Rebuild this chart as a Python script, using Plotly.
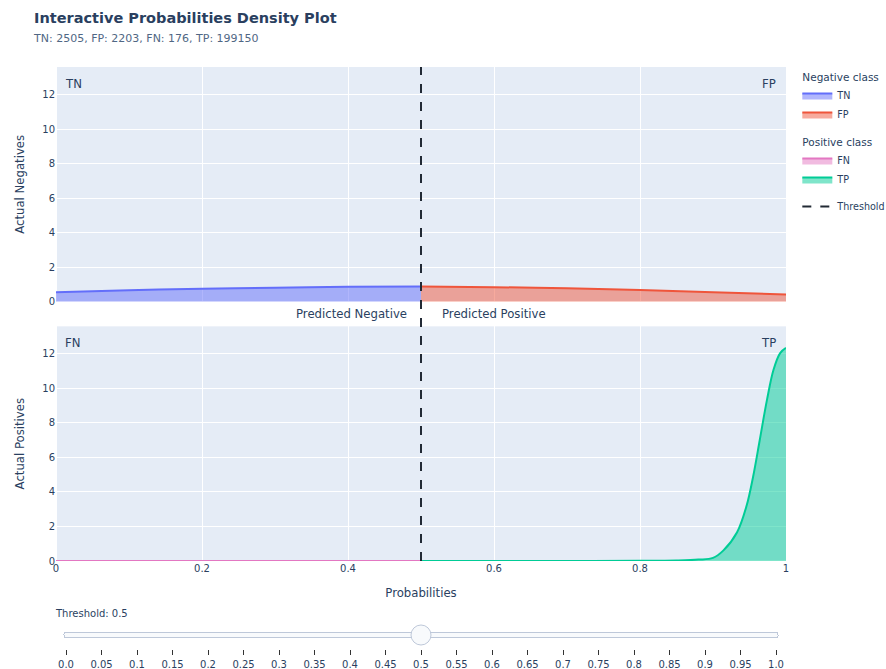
import plotly.graph_objects as go
from plotly.subplots import make_subplots

threshold = 0.5
counts = {"TN": 2505, "FP": 2203, "FN": 176, "TP": 199150}

# Density of actual negatives
neg_x = [0.0, 0.1, 0.2, 0.3, 0.4, 0.5, 0.6, 0.7, 0.8, 0.9, 1.0]
neg_y = [0.54, 0.66, 0.75, 0.81, 0.86, 0.88, 0.84, 0.77, 0.67, 0.55, 0.42]

# Density of actual positives
pos_x = [0.0, 0.1, 0.2, 0.3, 0.4, 0.5, 0.6, 0.7, 0.8, 0.85, 0.88, 0.9, 0.914,
         0.933, 0.946, 0.955, 0.964, 0.974, 0.983, 0.992, 1.0]
pos_y = [0.0, 0.0, 0.0, 0.0, 0.0, 0.0, 0.0, 0.0, 0.01, 0.03, 0.08, 0.18, 0.6,
         1.67, 3.2, 4.9, 7.0, 9.35, 11.1, 12.05, 12.35]

slider_values = [round(i * 0.05, 2) for i in range(21)]
slider_labels = ["0.0", "0.05", "0.1", "0.15", "0.2", "0.25", "0.3", "0.35", "0.4", "0.45",
                 "0.5", "0.55", "0.6", "0.65", "0.7", "0.75", "0.8", "0.85", "0.9", "0.95", "1.0"]

FONT = "DejaVu Sans"
TXT = "#2a3f5f"


def split(xs, ys, thr):
    lx, ly, rx, ry = [], [], [], []
    for x, y in zip(xs, ys):
        if x <= thr:
            lx.append(x); ly.append(y)
        if x >= thr:
            rx.append(x); ry.append(y)
    return lx, ly, rx, ry


tnx, tny, fpx, fpy = split(neg_x, neg_y, threshold)
fnx, fny, tpx, tpy = split(pos_x, pos_y, threshold)

fig = make_subplots(rows=2, cols=1, shared_xaxes=True, vertical_spacing=0.05)

fig.add_trace(go.Scatter(x=tnx, y=tny, mode="lines", fill="tozeroy", name="TN",
                         line=dict(color="#636EFA", shape="spline"),
                         legendgroup="neg", legendgrouptitle_text="Negative class"), row=1, col=1)
fig.add_trace(go.Scatter(x=fpx, y=fpy, mode="lines", fill="tozeroy", name="FP",
                         line=dict(color="#EF553B", shape="spline"),
                         legendgroup="neg"), row=1, col=1)
fig.add_trace(go.Scatter(x=fnx, y=fny, mode="lines", fill="tozeroy", name="FN",
                         line=dict(color="#E377C2", shape="spline"),
                         legendgroup="pos", legendgrouptitle_text="Positive class"), row=2, col=1)
fig.add_trace(go.Scatter(x=tpx, y=tpy, mode="lines", fill="tozeroy", name="TP",
                         line=dict(color="#00CC96", shape="spline"),
                         legendgroup="pos"), row=2, col=1)
fig.add_trace(go.Scatter(x=[None], y=[None], mode="lines", name="Threshold",
                         line=dict(color="#222a35", dash="dash", width=2)), row=1, col=1)

fig.add_shape(type="line", xref="x", yref="paper", x0=threshold, x1=threshold, y0=0, y1=1,
              line=dict(color="#222a35", dash="dash", width=2))

ymax = 13.6
fig.update_yaxes(range=[0, ymax], dtick=2, tickfont=dict(size=10), automargin=False)
fig.update_xaxes(range=[0, 1], tickfont=dict(size=10), automargin=False)
fig.update_xaxes(title_text="Probabilities", title_font=dict(size=11.7), row=2, col=1)
fig.update_yaxes(title_text="Actual Negatives", title_font=dict(size=11.7), row=1, col=1)
fig.update_yaxes(title_text="Actual Positives", title_font=dict(size=11.7), row=2, col=1)

ann_font = dict(size=11.7, color=TXT, family=FONT)
fig.add_annotation(text="TN", xref="x domain", yref="y domain", x=0.0, y=1.0, xshift=7, yshift=-8,
                   xanchor="left", yanchor="top", showarrow=False, font=ann_font)
fig.add_annotation(text="FP", xref="x domain", yref="y domain", x=1.0, y=1.0, xshift=-8, yshift=-8,
                   xanchor="right", yanchor="top", showarrow=False, font=ann_font)
fig.add_annotation(text="FN", xref="x2 domain", yref="y2 domain", x=0.0, y=1.0, xshift=7, yshift=-8,
                   xanchor="left", yanchor="top", showarrow=False, font=ann_font)
fig.add_annotation(text="TP", xref="x2 domain", yref="y2 domain", x=1.0, y=1.0, xshift=-8, yshift=-8,
                   xanchor="right", yanchor="top", showarrow=False, font=ann_font)
fig.add_annotation(text="Predicted Negative", xref="x", yref="paper", x=0.405, y=0.5,
                   xanchor="center", yanchor="middle", showarrow=False, font=ann_font)
fig.add_annotation(text="Predicted Positive", xref="x", yref="paper", x=0.6, y=0.5,
                   xanchor="center", yanchor="middle", showarrow=False, font=ann_font)

steps = [dict(method="skip", args=[None], label=lab, value=lab)
         for v, lab in zip(slider_values, slider_labels)]

fig.update_layout(
    template="plotly",
    width=886, height=669,
    font=dict(family=FONT, size=10, color=TXT),
    margin=dict(l=56, r=100, t=67, b=108, autoexpand=False),
    title=dict(text="<b>Interactive Probabilities Density Plot</b><br>"
                    "<span style='font-size:11px;color:#506784'>TN: 2505, FP: 2203, FN: 176, TP: 199150</span>",
               xref="container", x=0.0384, xanchor="left", y=0.9653, yanchor="top",
               pad=dict(l=0, t=0), font=dict(size=14.5, family=FONT)),
    legend=dict(tracegroupgap=8, font=dict(size=9.6), x=1.0155, y=1.01,
                grouptitlefont=dict(size=10.5)),
    sliders=[dict(active=10, steps=steps, x=0, len=1, y=0, yanchor="top",
                  pad=dict(t=43, b=0), ticklen=5, minorticklen=3,
                  currentvalue=dict(prefix="Threshold: ", xanchor="left", font=dict(size=10)),
                  font=dict(size=10))],
)

fig.write_html("out.html",
               config={"displayModeBar": False},
               post_script="document.body.style.margin='0';"
                           "document.documentElement.style.overflow='hidden';")
